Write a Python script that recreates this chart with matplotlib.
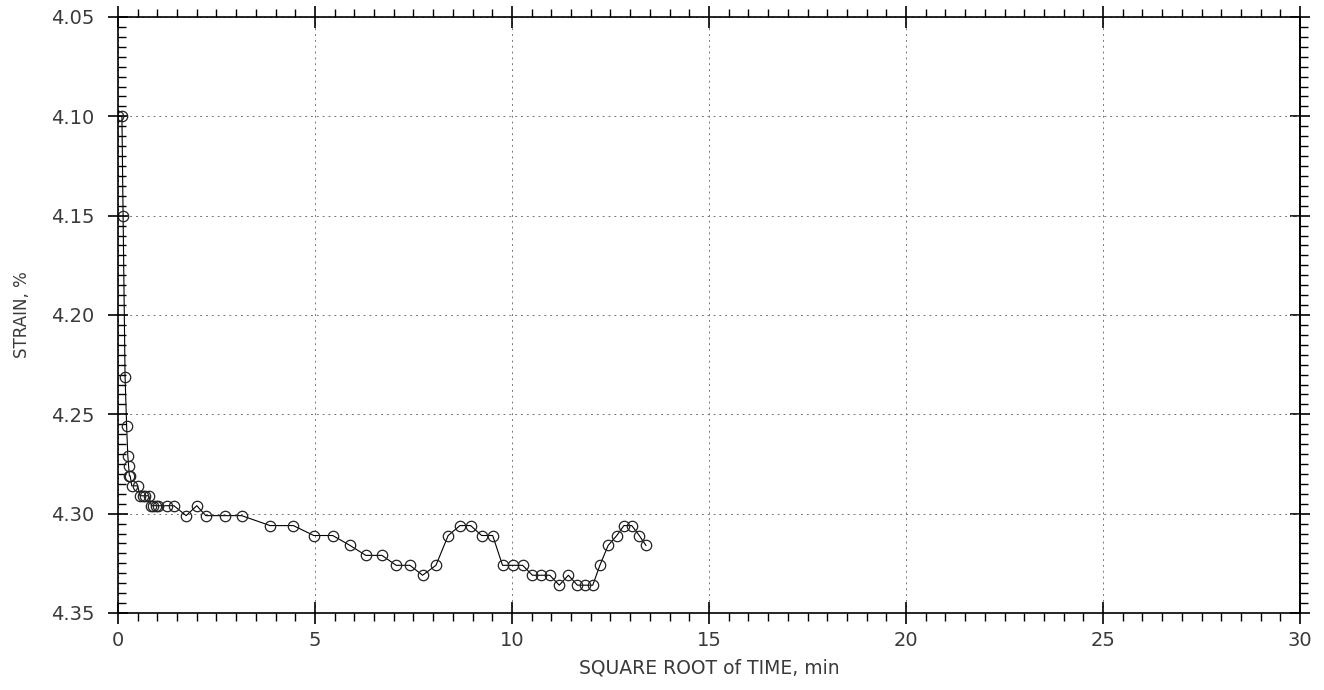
import numpy as np
import matplotlib.pyplot as plt
from matplotlib.ticker import MultipleLocator, NullFormatter

# sqrt(time) in sqrt(min) and strain in %
sqrt_time = [0.0, 0.1, 0.13, 0.18, 0.22, 0.25, 0.27, 0.29, 0.31, 0.35,
             0.5, 0.56, 0.63, 0.69, 0.78, 0.85, 0.9, 0.96, 1.02, 1.24,
             1.42, 1.73, 2.0, 2.23, 2.72, 3.14, 3.86, 4.45, 4.97, 5.45,
             5.89, 6.29, 6.70, 7.06, 7.41, 7.73, 8.07, 8.38, 8.68, 8.95,
             9.23, 9.51, 9.76, 10.02, 10.27, 10.52, 10.73, 10.96, 11.20, 11.43,
             11.66, 11.85, 12.05, 12.23, 12.44, 12.66, 12.84, 13.04, 13.23, 13.40]
strain = [4.100, 4.100, 4.150, 4.231, 4.256, 4.271, 4.276, 4.281, 4.281, 4.286,
          4.286, 4.291, 4.291, 4.291, 4.291, 4.296, 4.296, 4.296, 4.296, 4.296,
          4.296, 4.301, 4.296, 4.301, 4.301, 4.301, 4.306, 4.306, 4.311, 4.311,
          4.316, 4.321, 4.321, 4.326, 4.326, 4.331, 4.326, 4.311, 4.306, 4.306,
          4.311, 4.311, 4.326, 4.326, 4.326, 4.331, 4.331, 4.331, 4.336, 4.331,
          4.336, 4.336, 4.336, 4.326, 4.316, 4.311, 4.306, 4.306, 4.311, 4.316]

x_ticks = [0, 5, 10, 15, 20, 25, 30]
y_ticks = [4.05, 4.10, 4.15, 4.20, 4.25, 4.30, 4.35]

txt = '#3a3a3a'

fig = plt.figure(figsize=(13.24, 6.9), dpi=100)
ax = fig.add_axes([0.0891, 0.1116, 0.8928, 0.8638])

ax.plot(sqrt_time, strain, color='black', lw=0.8, marker='o', ms=7.5,
        mfc='none', mec='#222222', mew=0.9)

ax.set_xlim(0, 30)
ax.set_ylim(4.35, 4.05)
ax.set_xticks(x_ticks)
ax.set_xticklabels([str(v) for v in x_ticks])
ax.set_yticks(y_ticks)
ax.set_yticklabels(['%.2f' % v for v in y_ticks])
ax.xaxis.set_minor_locator(MultipleLocator(0.5))
ax.yaxis.set_minor_locator(MultipleLocator(0.005))

ax.grid(True, which='major', ls=(0, (2, 4)), color='#777777', lw=0.7)

for s in ax.spines.values():
    s.set_linewidth(1.2)

# bottom / top ticks
ax.tick_params(axis='x', which='both', top=True, direction='out', labelsize=14,
               labelcolor=txt, pad=5)
ax.tick_params(axis='x', which='major', direction='inout', length=16, width=1.2)
ax.tick_params(axis='x', which='minor', length=6, width=1.0)

# left ticks point inward
ax.tick_params(axis='y', which='both', right=False, labelsize=14,
               labelcolor=txt, pad=10)
ax.tick_params(axis='y', which='major', direction='inout', length=14, width=1.2)
ax.tick_params(axis='y', which='minor', direction='in', length=6, width=1.0)

# right ticks point outward
sec = ax.secondary_yaxis('right')
sec.set_yticks(y_ticks)
sec.yaxis.set_minor_locator(MultipleLocator(0.005))
sec.yaxis.set_major_formatter(NullFormatter())
sec.tick_params(which='major', direction='inout', length=14, width=1.2)
sec.tick_params(which='minor', direction='out', length=6, width=1.0)
sec.spines['right'].set_linewidth(1.2)

ax.set_xlabel('SQUARE ROOT of TIME, min', fontsize=13.5, color=txt, labelpad=6)
ax.set_ylabel('STRAIN, %', fontsize=12, color=txt, labelpad=14)

plt.savefig('out.png', dpi=100)
